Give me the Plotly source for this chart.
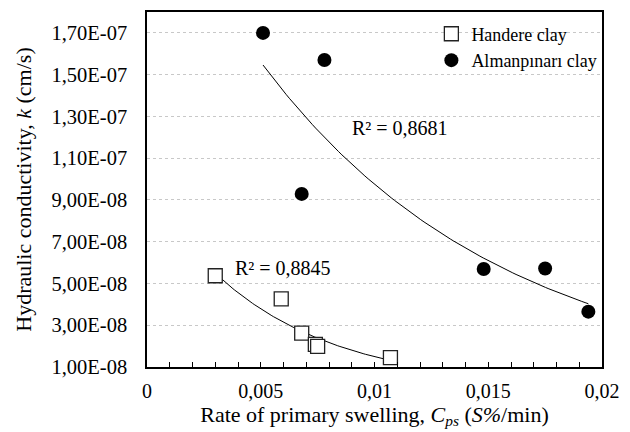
import numpy as np
import plotly.graph_objects as go

# Handere clay (open squares)
handere_x = [0.0030, 0.0059, 0.0068, 0.0074, 0.0075, 0.0107]
handere_y = [5.37e-8, 4.26e-8, 2.62e-8, 2.08e-8, 1.99e-8, 1.45e-8]

# Almanpınarı clay (filled circles)
alman_x = [0.0051, 0.0078, 0.0068, 0.0148, 0.0175, 0.0194]
alman_y = [1.70e-7, 1.57e-7, 9.29e-8, 5.69e-8, 5.72e-8, 3.65e-8]

y_tickvals = [1e-8, 3e-8, 5e-8, 7e-8, 9e-8, 1.1e-7, 1.3e-7, 1.5e-7, 1.7e-7]
y_ticktext = ["1,00E-08", "3,00E-08", "5,00E-08", "7,00E-08", "9,00E-08",
              "1,10E-07", "1,30E-07", "1,50E-07", "1,70E-07"]
x_tickvals = [0, 0.005, 0.01, 0.015, 0.02]
x_ticktext = ["0", "0,005", "0,01", "0,015", "0,02"]

r2_handere = "R² = 0,8845"
r2_alman = "R² = 0,8681"

FONT = "Liberation Serif"


def exp_trend(xs, ys, n=100):
    xs = np.asarray(xs, float)
    ys = np.asarray(ys, float)
    b, ln_a = np.polyfit(xs, np.log(ys), 1)
    xx = np.linspace(xs.min(), xs.max(), n)
    return xx, np.exp(ln_a) * np.exp(b * xx)


fig = go.Figure()

hx, hy = exp_trend(handere_x, handere_y)
ax_, ay_ = exp_trend(alman_x, alman_y)

fig.add_trace(go.Scatter(x=hx, y=hy, mode="lines", line=dict(color="black", width=1),
                         showlegend=False, hoverinfo="skip"))
fig.add_trace(go.Scatter(x=ax_, y=ay_, mode="lines", line=dict(color="black", width=1),
                         showlegend=False, hoverinfo="skip"))

fig.add_trace(go.Scatter(
    x=handere_x, y=handere_y, mode="markers", name="Handere clay",
    marker=dict(symbol="square", size=14, color="white",
                line=dict(color="#222222", width=1.3))))
fig.add_trace(go.Scatter(
    x=alman_x, y=alman_y, mode="markers", name="Almanpınarı clay",
    marker=dict(symbol="circle", size=14, color="black",
                line=dict(color="black", width=0))))

fig.add_annotation(x=0.0038, y=5.75e-8, text=r2_handere, showarrow=False,
                   xanchor="left", yanchor="middle", font=dict(size=20, color="black", family=FONT))
fig.add_annotation(x=0.00893, y=1.245e-7, text=r2_alman, showarrow=False,
                   xanchor="left", yanchor="middle", font=dict(size=20, color="black", family=FONT))

fig.update_layout(
    width=630, height=432,
    margin=dict(l=147, r=19, t=10, b=65),
    paper_bgcolor="white", plot_bgcolor="white",
    font=dict(family=FONT, color="black", size=20),
    legend=dict(x=0.625, y=0.99, xanchor="left", yanchor="top",
                bgcolor="rgba(0,0,0,0)", font=dict(size=18, family=FONT, color="black"),
                itemwidth=30, tracegroupgap=0),
    showlegend=True,
)

fig.update_xaxes(
    range=[0, 0.02], tickvals=x_tickvals, ticktext=x_ticktext,
    ticks="inside", ticklen=5, tickcolor="black", tickwidth=1,
    minor=dict(dtick=0.001, ticks="inside", ticklen=5, tickcolor="black", showgrid=False),
    showline=True, linecolor="black", linewidth=1.5, mirror=True,
    showgrid=False, zeroline=False, ticklabelstandoff=5,
    tickfont=dict(size=20, family=FONT, color="black"),
    title=dict(text="Rate of primary swelling, <i>C</i><sub><i>ps</i></sub> (<i>S%</i>/min)",
               font=dict(size=22, family=FONT, color="black"), standoff=1),
)
fig.update_yaxes(
    range=[1e-8, 1.8e-7], tickvals=y_tickvals, ticktext=y_ticktext,
    ticks="", showline=True, linecolor="black", linewidth=1.5, mirror=True,
    showgrid=True, gridcolor="#c8c8c8", gridwidth=1, griddash="dot",
    zeroline=False, ticklabelstandoff=14,
    tickfont=dict(size=20.5, family=FONT, color="black"),
    title=dict(text="Hydraulic conductivity, <i>k</i> (cm/s)",
               font=dict(size=22, family=FONT, color="black"), standoff=14),
)

fig.write_html("out.html")
